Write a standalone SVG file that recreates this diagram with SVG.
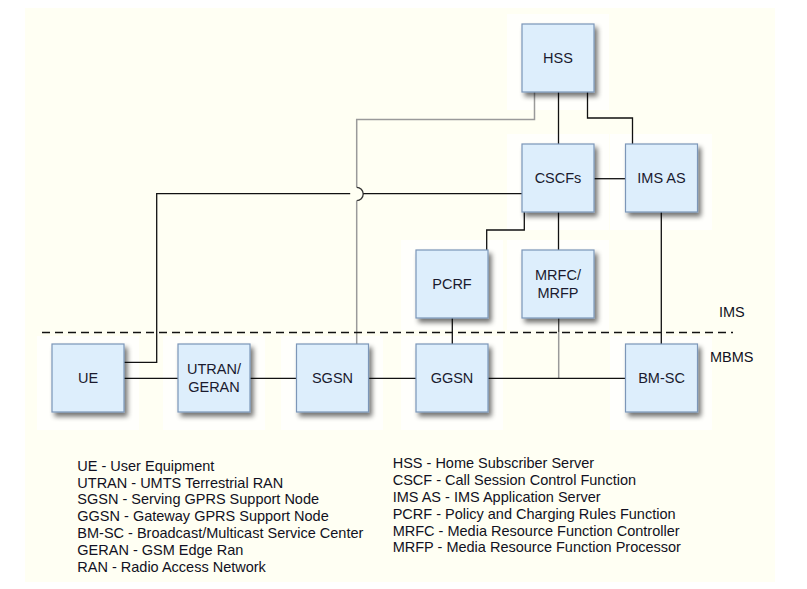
<svg xmlns="http://www.w3.org/2000/svg" width="807" height="589" viewBox="0 0 807 589">
<defs>
<filter id="sh" x="-20%" y="-20%" width="150%" height="150%">
<feGaussianBlur in="SourceAlpha" stdDeviation="2.5"/>
<feOffset dx="3" dy="4" result="b"/>
<feComponentTransfer><feFuncA type="linear" slope="0.55"/></feComponentTransfer>
<feMerge><feMergeNode/><feMergeNode in="SourceGraphic"/></feMerge>
</filter>
</defs>
<style>
.box{fill:#ddeefc;stroke:#7b96b8;stroke-width:1.2}
.halo{fill:#ffffff;opacity:0.75}
.lbl{font-family:"Liberation Sans",Arial,sans-serif;font-size:14.5px;fill:#1a1a2e;text-anchor:middle}
.leg{font-family:"Liberation Sans",Arial,sans-serif;font-size:14.5px;fill:#111122}
.ln{fill:none;stroke:#111;stroke-width:1.3}
.gl{fill:none;stroke:#9a9a9a;stroke-width:1.5}
</style>
<rect width="807" height="589" fill="#ffffff"/>
<rect x="25" y="8" width="750" height="574" fill="#fffff3"/>
<g id="halos">
<rect class="halo" x="507" y="14" width="102" height="96"/>
<rect class="halo" x="507" y="134" width="102" height="96"/>
<rect class="halo" x="610" y="134" width="102" height="96"/>
<rect class="halo" x="401" y="240" width="102" height="90"/>
<rect class="halo" x="507" y="240" width="102" height="90"/>
<rect class="halo" x="37" y="336" width="102" height="94"/>
<rect class="halo" x="163" y="336" width="102" height="94"/>
<rect class="halo" x="281" y="336" width="102" height="94"/>
<rect class="halo" x="401" y="336" width="102" height="94"/>
<rect class="halo" x="610" y="336" width="102" height="94"/>
</g>
<g id="connectors">
<path class="ln" d="M558.5 92 V144"/>
<path class="ln" d="M587.5 92 V118 H632.5 V144"/>
<path class="gl" d="M534.5 92 V119.5 H356.7 V187.3"/>
<path d="M356.7 187.3 A6.5 6.7 0 0 1 356.7 200.7" fill="none" stroke="#333" stroke-width="1.3"/>
<path class="gl" d="M356.7 200.7 V344"/>
<path class="ln" d="M594 178.7 H625.5"/>
<path class="ln" d="M124 362.3 H156.7 V193.7 H350.2 M363.2 193.7 H522"/>
<path class="ln" d="M524.3 212 V230 H486.7 V250"/>
<path class="ln" d="M558.5 212 V250"/>
<path class="ln" d="M452.3 318 V344"/>
<path d="M558.7 318 V332" fill="none" stroke="#444" stroke-width="1.3"/>
<path class="gl" d="M558.7 332 V378.3"/>
<path class="ln" d="M661.3 212 V344"/>
<path class="ln" d="M124 378.3 H178 M250 378.3 H296.5 M368.5 378.3 H416 M488 378.3 H625.5"/>
<path d="M42 332.5 H733" fill="none" stroke="#111" stroke-width="1.3" stroke-dasharray="8 5"/>
</g>
<g id="HSS"><rect class="box" filter="url(#sh)" x="522" y="24" width="72" height="68"/><text class="lbl" x="558" y="63">HSS</text></g>
<g id="CSCFs"><rect class="box" filter="url(#sh)" x="522" y="144" width="72" height="68"/><text class="lbl" x="558" y="183">CSCFs</text></g>
<g id="IMSAS"><rect class="box" filter="url(#sh)" x="625.5" y="144" width="72" height="68"/><text class="lbl" x="661.5" y="183">IMS AS</text></g>
<g id="PCRF"><rect class="box" filter="url(#sh)" x="416" y="250" width="72" height="68"/><text class="lbl" x="452" y="289">PCRF</text></g>
<g id="MRFC"><rect class="box" filter="url(#sh)" x="522" y="250" width="72" height="68"/><text class="lbl" x="558" y="280">MRFC/</text><text class="lbl" x="558" y="298">MRFP</text></g>
<g id="UE"><rect class="box" filter="url(#sh)" x="52" y="344" width="72" height="68"/><text class="lbl" x="88" y="383">UE</text></g>
<g id="UTRAN"><rect class="box" filter="url(#sh)" x="178" y="344" width="72" height="68"/><text class="lbl" x="214" y="374">UTRAN/</text><text class="lbl" x="214" y="392">GERAN</text></g>
<g id="SGSN"><rect class="box" filter="url(#sh)" x="296.5" y="344" width="72" height="68"/><text class="lbl" x="332.5" y="383">SGSN</text></g>
<g id="GGSN"><rect class="box" filter="url(#sh)" x="416" y="344" width="72" height="68"/><text class="lbl" x="452" y="383">GGSN</text></g>
<g id="BMSC"><rect class="box" filter="url(#sh)" x="625.5" y="344" width="72" height="68"/><text class="lbl" x="661.5" y="383">BM-SC</text></g>
<g id="zones">
<text class="leg" x="719" y="317">IMS</text>
<text class="leg" x="710" y="361.7">MBMS</text>
</g>
<g id="legend-left">
<text class="leg" x="77.3" y="470.7">UE - User Equipment</text>
<text class="leg" x="77.3" y="487.5">UTRAN - UMTS Terrestrial RAN</text>
<text class="leg" x="77.3" y="504.3">SGSN - Serving GPRS Support Node</text>
<text class="leg" x="77.3" y="521.1">GGSN - Gateway GPRS Support Node</text>
<text class="leg" x="77.3" y="537.9">BM-SC - Broadcast/Multicast Service Center</text>
<text class="leg" x="77.3" y="554.7">GERAN - GSM Edge Ran</text>
<text class="leg" x="77.3" y="571.5">RAN - Radio Access Network</text>
</g>
<g id="legend-right">
<text class="leg" x="392.7" y="468.3">HSS - Home Subscriber Server</text>
<text class="leg" x="392.7" y="485.1">CSCF - Call Session Control Function</text>
<text class="leg" x="392.7" y="501.9">IMS AS - IMS Application Server</text>
<text class="leg" x="392.7" y="518.7">PCRF - Policy and Charging Rules Function</text>
<text class="leg" x="392.7" y="535.5">MRFC - Media Resource Function Controller</text>
<text class="leg" x="392.7" y="552.3">MRFP - Media Resource Function Processor</text>
</g>
</svg>
